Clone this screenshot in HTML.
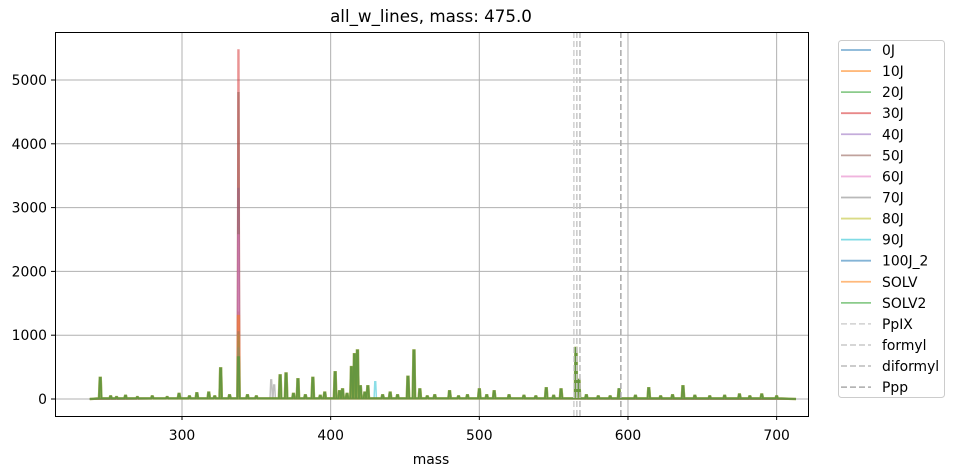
<!DOCTYPE html>
<html><head><meta charset="utf-8"><style>
body{margin:0;background:#fff;font-family:"Liberation Sans","DejaVu Sans",sans-serif}
svg text{font-family:"DejaVu Sans","Liberation Sans",sans-serif}
</style></head><body>
<svg id="chart" width="954" height="470" xmlns="http://www.w3.org/2000/svg">
<rect width="954" height="470" fill="#fff"/>
<text x="431" y="22" font-size="16.7" text-anchor="middle">all_w_lines, mass: 475.0</text>
<g id="grid"></g><g id="series"></g><g id="vlines"></g>
<rect x="55.5" y="32.5" width="753" height="384" fill="none" stroke="#000" stroke-width="1"/>
<g id="axes"></g>
<text x="431" y="464" font-size="13.9" text-anchor="middle">mass</text>
<g id="legend"></g>
</svg>
<script>
const seriesNames=["0J","10J","20J","30J","40J","50J","60J","70J","80J","90J","100J_2","SOLV","SOLV2"];
const colors=["#1f77b4","#ff7f0e","#2ca02c","#d62728","#9467bd","#8c564b","#e377c2","#7f7f7f","#bcbd22","#17becf","#1f77b4","#ff7f0e","#2ca02c"];
const mainPeak=[1050,1360,700,5470,3300,4800,2570,900,1000,800,1050,1300,650];
const commonMass=[245,252,256,262,270,280,290,298,305,310,318,322,326,332,344,350,366,370,375,378,383,388,393,396,403,406,408,411,414,416,418,420,423,425,435,440,445,452,456,460,465,470,480,486,492,500,505,510,520,530,538,545,550,555,565,567,572,580,588,594,605,614,622,630,637,645,655,665,675,682,690,700];
const commonHeight=[330,40,30,50,30,40,30,80,40,90,100,40,480,60,60,40,370,400,80,310,60,330,50,100,420,120,150,80,500,700,760,200,100,200,60,100,60,350,760,150,40,60,120,40,60,150,60,120,60,50,40,170,50,150,800,300,60,40,40,150,50,170,40,60,200,50,40,50,70,40,70,40];
const grayMass=[360,362];const grayHeight=[300,220];
const cyanMass=[430,594];const cyanHeight=[270,160];
const xTicks=[300,400,500,600,700];
const yTicks=[0,1000,2000,3000,4000,5000];
const refNames=["PpIX","formyl","diformyl","Ppp"];
const refMass=[563.6,565.6,567.7,595.2];
const refColors=["#d0d0d0","#c8c8c8","#bcbcbc","#aaaaaa"];
const X=m=>182+(m-300)*1.4866;
const Y=v=>399-v*0.0638;
const NS="http://www.w3.org/2000/svg";
function mk(t,a,p){const e=document.createElementNS(NS,t);for(const k in a)e.setAttribute(k,a[k]);p.appendChild(e);return e;}
const grid=document.getElementById('grid'),axes=document.getElementById('axes');
xTicks.forEach(t=>{
 const l=mk('line',{x1:X(t),x2:X(t),y1:32,y2:416,stroke:'#b0b0b0','stroke-width':1},grid);
 
 
 mk('line',{x1:X(t),x2:X(t),y1:416,y2:420,stroke:'#000'},axes);
 const tx=mk('text',{x:X(t),y:440,'font-size':13.9,'text-anchor':'middle'},axes);tx.textContent=t;
 
 
});
yTicks.forEach(t=>{
 const l=mk('line',{x1:55,x2:808,y1:Y(t),y2:Y(t),stroke:'#b0b0b0','stroke-width':1},grid);
 
 
 mk('line',{x1:51,x2:55,y1:Y(t),y2:Y(t),stroke:'#000'},axes);
 const tx=mk('text',{x:47,y:Y(t)+5,'font-size':13.9,'text-anchor':'end'},axes);tx.textContent=t;
 
 
});
const sg=document.getElementById('series');
function peakPath(ms,hs){
 const pts=[[238,0]];
 const idx=ms.map((m,i)=>i).sort((a,b)=>ms[a]-ms[b]);
 idx.forEach(i=>{pts.push([ms[i]-0.8,10],[ms[i]-0.3,hs[i]],[ms[i]+0.3,hs[i]],[ms[i]+0.8,10]);});
 pts.push([713,0]);
 return pts.map((p,i)=>(i?'L':'M')+X(p[0]).toFixed(1)+' '+Y(p[1]).toFixed(1)).join('');
}
seriesNames.forEach((n,i)=>{
 let ms=[338],hs=[mainPeak[i]];
 if(i>=8||i==2||i==1){ms=ms.concat(commonMass);hs=hs.concat(commonHeight);}
 if(i==7){ms=ms.concat(grayMass);hs=hs.concat(grayHeight);}
 if(i==9){ms=ms.concat(cyanMass);hs=hs.concat(cyanHeight);}
 const p=mk('path',{d:peakPath(ms,hs),fill:'none',stroke:colors[i],'stroke-width':(i==12||i==11)?2.5:1.5,'stroke-opacity':0.5},sg);
 
 
});
const vg=document.getElementById('vlines');
refMass.forEach((m,i)=>{
 const l=mk('line',{x1:X(m),x2:X(m),y1:32,y2:416,stroke:refColors[i],'stroke-width':1.5,'stroke-dasharray':'6,3'},vg);
 
 
});
const lg=document.getElementById('legend');
const box=mk('rect',{x:838.5,y:40.5,width:106,height:357,rx:3,fill:'#fff',stroke:'#ccc'},lg);


const allN=seriesNames.concat(refNames);
allN.forEach((n,i)=>{
 const y=50+i*21.07;
 const g=mk('g',{},lg);
 
 
 if(i<13)mk('line',{x1:841,x2:871,y1:y,y2:y,stroke:colors[i],'stroke-width':1.8,'stroke-opacity':0.55},g);
 else mk('line',{x1:841,x2:871,y1:y,y2:y,stroke:refColors[i-13],'stroke-width':1.5,'stroke-dasharray':'6,3'},g);
 const t=mk('text',{x:882,y:y+5,'font-size':13.9},g);t.textContent=n;
});
</script>
</body></html>
